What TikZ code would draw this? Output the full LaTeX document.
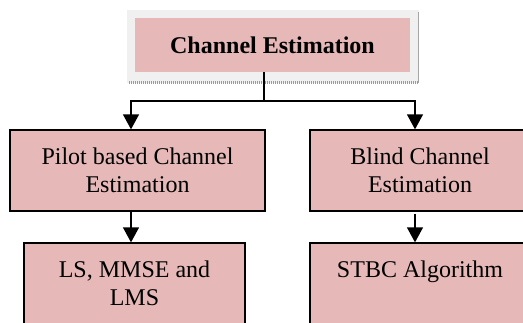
\documentclass[tikz,border=0pt]{standalone}
\usepackage{fontspec}
\setmainfont{Liberation Serif}
\usetikzlibrary{arrows.meta}
\definecolor{boxpink}{HTML}{E6B8B7}
\definecolor{framegray}{HTML}{F0F0F0}
\definecolor{shadowblue}{HTML}{8C9DB5}
\begin{document}
\begin{tikzpicture}[x=1pt,y=-1pt,
  box/.style={draw=black, line width=1.3pt, fill=boxpink, minimum width=#1,
    minimum height=81pt, inner sep=0pt, align=center,
    font=\fontsize{24}{28}\selectfont},
  conn/.style={line width=1.3pt},
  arr/.style={conn, -{Triangle[width=16pt,length=15pt]}}]
\useasboundingbox (0,0) rectangle (523,322);
\clip (0,0) rectangle (523,322);
% top frame
\fill[framegray] (127,10) rectangle (419,83);
\draw[shadowblue, line width=3pt, dash pattern=on 1pt off 1pt] (129,82) -- (419,82);
\draw[gray!70, line width=1pt] (418.5,12) -- (418.5,83);
\node[fill=boxpink, minimum width=275pt, minimum height=54pt, inner sep=0pt,
  font=\bfseries\fontsize{24}{28}\selectfont] (top) at (272.5,45) {Channel Estimation};
% boxes
\node[box=255pt] (pilot) at (137.5,170.5) {Pilot based Channel\\Estimation};
\node[box=220pt] (blind) at (420,170.5) {Blind Channel\\Estimation};
\node[box=221pt] (ls) at (134.5,283.5) {LS, MMSE and\\LMS};
\node[box=220pt] (stbc) at (420,283.5) {STBC Algorithm\\\phantom{A}};
% connectors
\coordinate (j) at (264,101);
\coordinate (jl) at (131,101);
\coordinate (jr) at (415,101);
\draw[conn] (j |- top.south) -- (j);
\draw[arr] (j) -| (jl |- pilot.north);
\draw[arr] (j) -| (jr |- blind.north);
\draw[arr] (jl |- pilot.south) -- (jl |- ls.north);
\draw[arr] ([yshift=-2pt]jr |- blind.south) -- (jr |- stbc.north);
\end{tikzpicture}
\end{document}
